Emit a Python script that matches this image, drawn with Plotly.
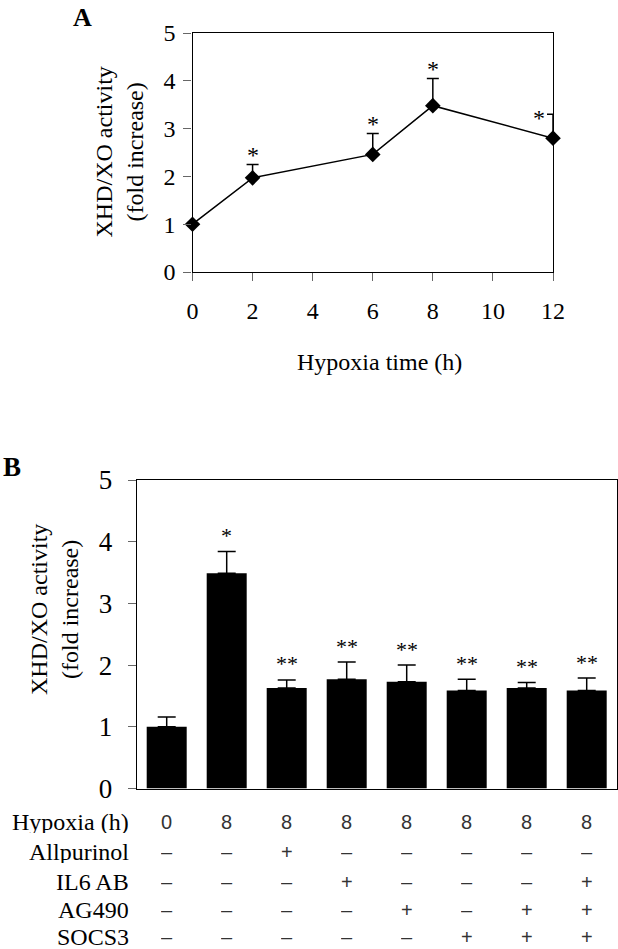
import plotly.graph_objects as go

W, H = 618, 949

# ---------------- Panel A data ----------------
hours = [0, 2, 6, 8, 12]
activity_a = [1.0, 1.97, 2.46, 3.48, 2.80]
err_a = [0.0, 0.28, 0.44, 0.57, 0.50]
sig_a = ["", "*", "*", "*", "*"]
xticks_a = [0, 2, 4, 6, 8, 10, 12]

# ---------------- Panel B data ----------------
conditions = list(range(8))
activity_b = [1.00, 3.49, 1.63, 1.77, 1.73, 1.59, 1.63, 1.59]
err_b = [0.16, 0.35, 0.13, 0.28, 0.27, 0.18, 0.09, 0.20]
sig_b = ["", "*", "**", "**", "**", "**", "**", "**"]

row_labels = ["Hypoxia (h)", "Allpurinol", "IL6 AB", "AG490", "SOCS3"]
hypoxia_h = ["0", "8", "8", "8", "8", "8", "8", "8"]
allpurinol = ["–", "–", "+", "–", "–", "–", "–", "–"]
il6_ab = ["–", "–", "–", "+", "–", "–", "–", "+"]
ag490 = ["–", "–", "–", "–", "+", "–", "+", "+"]
socs3 = ["–", "–", "–", "–", "–", "+", "+", "+"]
table_rows = [hypoxia_h, allpurinol, il6_ab, ag490, socs3]

def px(x):
    return x / W

def py(y):
    return 1 - y / H

SERIF = "Liberation Serif, Times New Roman, serif"
SANS = "Liberation Sans, Arial, sans-serif"

fig = go.Figure()

fig.add_trace(go.Scatter(
    x=hours, y=activity_a, mode="lines+markers",
    line=dict(color="black", width=1.5),
    marker=dict(symbol="diamond", size=12, color="black"),
    error_y=dict(type="data", array=err_a, arrayminus=[0] * len(err_a),
                 symmetric=False, color="black", thickness=1.5, width=6),
    xaxis="x", yaxis="y", showlegend=False, cliponaxis=False,
))

fig.add_trace(go.Bar(
    x=conditions, y=activity_b, marker=dict(color="black", line=dict(width=0)),
    error_y=dict(type="data", array=err_b, arrayminus=[0] * len(err_b),
                 symmetric=False, color="black", thickness=1.5, width=9),
    xaxis="x2", yaxis="y2", showlegend=False,
))

axis_common = dict(showline=True, mirror=True, linecolor="black", linewidth=1.2,
                   showgrid=False, zeroline=False, automargin=False,
                   tickfont=dict(family=SERIF, size=24, color="black"))

fig.update_layout(
    width=W, height=H, margin=dict(l=0, r=0, t=0, b=0, autoexpand=False),
    paper_bgcolor="white", plot_bgcolor="white",
    bargap=1/3,
    xaxis=dict(domain=[px(192.5), px(553)], range=[0, 12], tickvals=xticks_a,
               ticks="outside", ticklen=8, tickcolor="#666", tickwidth=1,
               ticklabelstandoff=9, anchor="y", **axis_common),
    yaxis=dict(domain=[py(272), py(33)], range=[0, 5], dtick=1,
               ticks="outside", ticklen=8, tickcolor="#666", tickwidth=1,
               ticklabelstandoff=3, anchor="x", **axis_common),
    xaxis2=dict(domain=[px(136.7), px(616.7)], range=[-0.5, 7.5],
                showticklabels=False, ticks="", anchor="y2", automargin=False,
                showline=True, mirror=True, linecolor="black", linewidth=1.2,
                showgrid=False, zeroline=False),
    yaxis2=dict(domain=[py(788.5), py(480)], range=[0, 5], dtick=1,
                ticks="outside", ticklen=8, tickcolor="#666", tickwidth=1,
                ticklabelstandoff=10, anchor="x2", automargin=False,
                showline=True, mirror=True, linecolor="black", linewidth=1.2,
                showgrid=False, zeroline=False,
                tickfont=dict(family=SERIF, size=27, color="black")),
)

ann = []
# panel letters
ann.append(dict(text="<b>A</b>", x=px(83), y=py(18), xref="paper", yref="paper",
                showarrow=False, font=dict(family=SERIF, size=26, color="black"),
                xanchor="center", yanchor="middle"))
ann.append(dict(text="<b>B</b>", x=px(12), y=py(467), xref="paper", yref="paper",
                showarrow=False, font=dict(family=SERIF, size=27, color="black"),
                xanchor="center", yanchor="middle"))
# axis titles
ann.append(dict(text="XHD/XO activity<br>(fold increase)", x=px(119), y=py(152.5),
                xref="paper", yref="paper", showarrow=False, textangle=-90,
                font=dict(family=SERIF, size=24, color="black"),
                xanchor="center", yanchor="middle"))
ann.append(dict(text="Hypoxia time (h)", x=px(379), y=py(361.7),
                xref="paper", yref="paper", showarrow=False,
                font=dict(family=SERIF, size=24, color="black"),
                xanchor="center", yanchor="middle"))
ann.append(dict(text="XHD/XO activity<br>(fold increase)", x=px(54), y=py(610),
                xref="paper", yref="paper", showarrow=False, textangle=-90,
                font=dict(family=SERIF, size=24, color="black"),
                xanchor="center", yanchor="middle"))

# panel A asterisks
for i, (h, v, e, s) in enumerate(zip(hours, activity_a, err_a, sig_a)):
    if not s:
        continue
    if i == len(hours) - 1:
        ann.append(dict(text=s, x=h, y=v + e, xref="x", yref="y", showarrow=False,
                        font=dict(family=SERIF, size=24, color="black"),
                        xanchor="center", yanchor="middle", xshift=-14, yshift=-4))
    else:
        ann.append(dict(text=s, x=h, y=v + e, xref="x", yref="y", showarrow=False,
                        font=dict(family=SERIF, size=24, color="black"),
                        xanchor="center", yanchor="middle", yshift=9))

# panel B asterisks
for c, v, e, s in zip(conditions, activity_b, err_b, sig_b):
    if not s:
        continue
    ann.append(dict(text=s, x=c, y=v + e, xref="x2", yref="y2", showarrow=False,
                    font=dict(family=SERIF, size=22, color="black"),
                    xanchor="center", yanchor="middle", yshift=16))

# treatment table
row_y = [821.7, 851.7, 881.7, 910, 937]
for lab, ry, vals in zip(row_labels, row_y, table_rows):
    ann.append(dict(text=lab, x=px(131), y=py(ry), xref="paper", yref="paper",
                    showarrow=False, font=dict(family=SERIF, size=24, color="black"),
                    xanchor="right", yanchor="middle", height=22, valign="middle"))
    for c, t in zip(conditions, vals):
        ann.append(dict(text=t, x=c, y=py(ry), xref="x2", yref="paper",
                        showarrow=False, font=dict(family=SANS, size=20, color="#333"),
                        xanchor="center", yanchor="middle", height=20, valign="middle"))

fig.update_layout(annotations=ann)

fig.write_html(
    "out.html",
    config={"displayModeBar": False},
    post_script="document.body.style.margin='0';document.body.style.overflow='hidden';",
)
